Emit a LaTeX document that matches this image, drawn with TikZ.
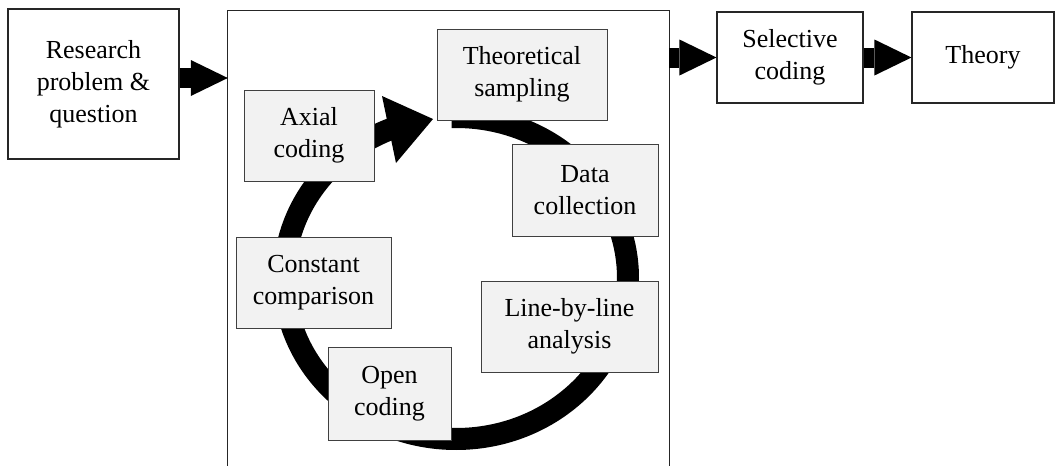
\documentclass[tikz,border=0pt]{standalone}
\usepackage{fontspec}
\setmainfont{Liberation Serif}
\usetikzlibrary{arrows.meta}
\definecolor{boxgray}{HTML}{F2F2F2}
\definecolor{edgegray}{HTML}{404040}
\begin{document}
\begin{tikzpicture}[x=1pt,y=1pt,
  txt/.style={align=center, font=\fontsize{26}{32}\selectfont, inner sep=0pt},
  outerbox/.style={txt, draw=black!85, line width=1.1pt, fill=white},
  innerbox/.style={txt, draw=edgegray, line width=1pt, fill=boxgray},
  blockarrow/.style={line width=20pt, -{Triangle[length=37pt,width=36pt,line width=0pt]}},
  ringline/.style={line width=22pt, black}]
\useasboundingbox (0,0) rectangle (1061,-466);
\clip (0,0) rectangle (1061,-466);
% outer boxes
\node[outerbox, minimum width=171pt, minimum height=150pt] (res) at (93.5,-84) {Research\\problem \&\\question};
\node[inner sep=0pt, minimum width=441pt, minimum height=489pt] (big) at (448.5,-255.5) {};
\draw[line width=1.1pt, black!85] (big.south west) -- (big.north west) -- (big.north east) -- (big.south east);
\node[outerbox, minimum width=146pt, minimum height=91pt] (sel) at (790,-57.5) {Selective\\coding};
\node[outerbox, minimum width=142pt, minimum height=91pt] (th) at (983,-57.5) {Theory};
% block arrows
\coordinate (a1) at (0,-78);
\draw[blockarrow] (res.east |- a1) -- (big.west |- a1);
\draw[blockarrow] (big.east |- sel.west) -- (sel.west);
\draw[blockarrow] (sel.east) -- (th.west);
% ring
\coordinate (ringc) at (456,-278);
\draw[ringline] ([shift={(91.5:172pt and 161pt)}]ringc) arc[start angle=91.5, end angle=-248, x radius=172pt, y radius=161pt];
\fill (382,-96) -- (433,-119) -- (396,-163) -- cycle;
% inner boxes
\node[innerbox, minimum width=170pt, minimum height=91pt] (ts) at (522,-74.5) {Theoretical\\sampling};
\node[innerbox, minimum width=130pt, minimum height=91pt] (ax) at (309,-135.5) {Axial\\coding};
\node[innerbox, minimum width=146pt, minimum height=92pt] (dc) at (585,-190) {Data\\collection};
\node[innerbox, minimum width=155pt, minimum height=91pt] (cc) at (313.5,-282.5) {Constant\\comparison};
\node[innerbox, minimum width=177pt, minimum height=91pt] (lbl) at (569.5,-326.5) {Line-by-line\\analysis};
\node[innerbox, minimum width=123pt, minimum height=93pt] (oc) at (389.5,-393.5) {Open\\coding};
\end{tikzpicture}
\end{document}
